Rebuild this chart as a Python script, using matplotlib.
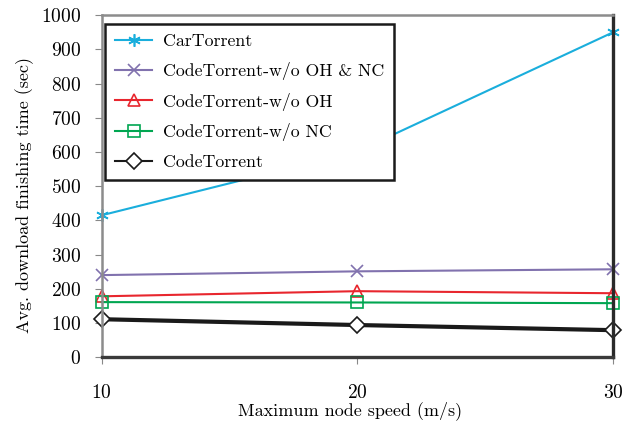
import matplotlib
matplotlib.use('Agg')
import matplotlib.pyplot as plt

plt.rcParams['font.family'] = ['cmr10', 'DejaVu Serif']
plt.rcParams['mathtext.fontset'] = 'cm'
plt.rcParams['axes.formatter.use_mathtext'] = True

# data
speed = [10, 20, 30]
car_torrent = [415, 602, 950]
code_wo_oh_nc = [240, 251, 257]
code_wo_oh = [178, 193, 187]
code_wo_nc = [161, 160, 158]
code_torrent = [111, 94, 79]

fig = plt.figure(figsize=(6.32, 4.34), dpi=100)
ax = fig.add_axes([0.161, 0.177, 0.809, 0.788])

ax.plot(speed, car_torrent, color='#1aaedc', lw=1.5, marker=(6, 2, 0), ms=9, mew=1.2,
        label='CarTorrent', clip_on=False)
ax.plot(speed, code_wo_oh_nc, color='#8172ae', lw=1.5, marker='x', ms=8, mew=1.2,
        label='CodeTorrent-w/o OH & NC', clip_on=False)
ax.plot(speed, code_wo_oh, color='#e8262e', lw=1.5, marker='^', ms=8, mew=1.2, mfc='none',
        label='CodeTorrent-w/o OH', clip_on=False)
ax.plot(speed, code_wo_nc, color='#00a651', lw=1.5, marker='s', ms=8, mew=1.2, mfc='none',
        label='CodeTorrent-w/o NC', clip_on=False)
ax.plot(speed, code_torrent, color='#1a1a1a', lw=3, marker='D', ms=8, mew=1.2, mfc='white',
        label='CodeTorrent', clip_on=False)

ax.set_xlim(10, 30)
ax.set_ylim(0, 1000)
ax.set_xticks(speed)
ax.set_yticks(range(0, 1001, 100))
ax.tick_params(axis='both', labelsize=14, direction='out', length=5, color='#888888')
ax.tick_params(axis='y', pad=10)
ax.tick_params(axis='x', pad=14)

ax.spines['left'].set_color('#8c8c8c')
ax.spines['left'].set_linewidth(1.8)
ax.spines['top'].set_color('#8c8c8c')
ax.spines['top'].set_linewidth(1.8)
ax.spines['right'].set_color('#2a2a2a')
ax.spines['right'].set_linewidth(2.4)
ax.spines['bottom'].set_color('#3a3a3a')
ax.spines['bottom'].set_linewidth(2.4)

ax.set_xlabel('Maximum node speed (m/s)', fontsize=13)
ax.set_ylabel('Avg. download finishing time (sec)', fontsize=13)
ax.xaxis.set_label_coords(0.485, -0.155)
ax.yaxis.set_label_coords(-0.151, 0.474)
ax.xaxis.label.set_va('center')
ax.yaxis.label.set_va('center')

leg = ax.legend(loc='upper left', fontsize=12.8, fancybox=False, framealpha=1,
                edgecolor='#1a1a1a', borderpad=0.55, handlelength=2.1, handletextpad=0.6,
                bbox_to_anchor=(0.0, 0.985), borderaxespad=0.2, labelspacing=0.72)
leg.get_frame().set_linewidth(1.8)
for line in leg.get_lines():
    line.set_linewidth(1.5)

fig.savefig('out.png', dpi=100)
